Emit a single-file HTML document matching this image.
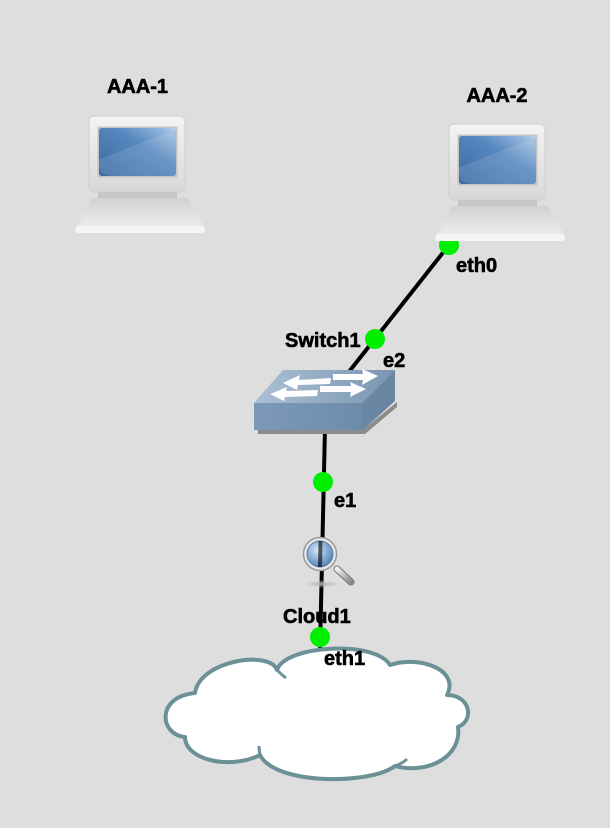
<!DOCTYPE html>
<html><head><meta charset="utf-8"><style>
html,body{margin:0;padding:0;background:#dedede;}
svg{display:block;}
text{font-family:"Liberation Sans",Arial,sans-serif;font-weight:bold;fill:#000;stroke:#000;stroke-width:0.6;}
</style></head><body>
<svg width="610" height="828" viewBox="0 0 610 828" xmlns="http://www.w3.org/2000/svg">
<defs>
<linearGradient id="mon" x1="0" y1="0" x2="0" y2="1"><stop offset="0" stop-color="#f4f4f4"/><stop offset="1" stop-color="#d8d8d8"/></linearGradient>
<linearGradient id="scr" x1="0" y1="1" x2="1" y2="0"><stop offset="0" stop-color="#3a6aa2"/><stop offset="0.6" stop-color="#5687bf"/><stop offset="1" stop-color="#a9c8e6"/></linearGradient>
<linearGradient id="base" x1="0" y1="0" x2="0" y2="1"><stop offset="0" stop-color="#d2d2d2"/><stop offset="0.8" stop-color="#ebebeb"/><stop offset="1" stop-color="#f6f6f6"/></linearGradient>
<linearGradient id="swtop" x1="0" y1="0" x2="1" y2="0"><stop offset="0" stop-color="#adc0d3"/><stop offset="1" stop-color="#7895b3"/></linearGradient>
<linearGradient id="swfront" x1="0" y1="0" x2="1" y2="0"><stop offset="0" stop-color="#7c99b7"/><stop offset="1" stop-color="#6d8cac"/></linearGradient>
<radialGradient id="lens" cx="0.4" cy="0.35" r="0.7"><stop offset="0" stop-color="#dbe8f5"/><stop offset="0.5" stop-color="#8fb2d8"/><stop offset="1" stop-color="#4d7fb8"/></radialGradient>
<linearGradient id="hdl" x1="0" y1="0" x2="1" y2="1"><stop offset="0" stop-color="#f0f0f0"/><stop offset="1" stop-color="#8a8a8a"/></linearGradient>
<radialGradient id="shad" cx="0.5" cy="0.5" r="0.5"><stop offset="0" stop-color="#a8a8a8"/><stop offset="1" stop-color="#dedede" stop-opacity="0"/></radialGradient>
<g id="laptop">
  <rect x="89" y="116" width="96" height="76" rx="5" fill="url(#mon)" stroke="#cfcfcf" stroke-width="1"/>
  <rect x="97.5" y="126.5" width="80" height="51" fill="#c4c4c4"/>
  <rect x="99" y="128" width="77" height="48" rx="3" fill="url(#scr)"/>
  <path d="M99 160 Q120 150 176 130 L176 128 L160 128 Q175 130 176 140 L176 176 L110 176 Q100 174 99 168 Z" fill="#ffffff" opacity="0.12"/>
  <rect x="98" y="192" width="79" height="7" fill="#c6c6c6"/>
  <path d="M95 198 L185 198 Q188 198 190 202 L205 229 Q206 233 201 233 L79 233 Q74 233 76 229 L90 202 Q92 198 95 198 Z" fill="url(#base)"/>
  <path d="M76 226 L204 226 L205 229 Q206 233 201 233 L79 233 Q74 233 76 229 Z" fill="#f4f4f4"/>
</g>
</defs>

<line x1="449" y1="245" x2="348" y2="373" stroke="#000" stroke-width="4"/>
<circle cx="449" cy="245" r="10" fill="#00ee00"/>

<line x1="325" y1="428" x2="320" y2="650" stroke="#000" stroke-width="4"/>

<use href="#laptop"/>
<use href="#laptop" transform="translate(360,8)"/>

<text x="137.5" y="93" font-size="20" text-anchor="middle">AAA-1</text>
<text x="497" y="102" font-size="20" text-anchor="middle">AAA-2</text>
<text x="456" y="272" font-size="20">eth0</text>

<polygon points="258,429 364,429 397,402 397,407 365,434 258,434" fill="#8c8c8c"/>
<polygon points="362,403 395,370 395,401 362,431" fill="#6a86a3"/>
<rect x="254" y="403" width="108" height="27" fill="url(#swfront)"/>
<polygon points="283,370 395,370 362,403 254,403" fill="url(#swtop)"/>
<polygon points="283,383 300,375 299,380 331,378 330,384 298,385 297,390" fill="#fff"/>
<polygon points="378,376 362,369 363,374 333,374 333,380 363,380 362,385" fill="#fff"/>
<polygon points="270,394 287,387 286,391 318,390 317,396 285,397 284,401" fill="#fff"/>
<polygon points="366,389 350,382 351,386 320,386 320,392 351,392 350,397" fill="#fff"/>

<text x="285" y="347" font-size="20">Switch1</text>
<circle cx="375" cy="339" r="10" fill="#00ee00"/>
<text x="383" y="367" font-size="20">e2</text>

<circle cx="323" cy="482" r="10" fill="#00ee00"/>
<text x="334" y="507" font-size="20">e1</text>

<ellipse cx="322" cy="584" rx="24" ry="4" fill="url(#shad)"/>
<line x1="337" y1="569" x2="351" y2="582" stroke="#777" stroke-width="7" stroke-linecap="round"/>
<line x1="337" y1="569" x2="351" y2="582" stroke="url(#hdl)" stroke-width="5" stroke-linecap="round"/>
<circle cx="320" cy="554" r="16.5" fill="#e8e8e8" stroke="#9a9a9a" stroke-width="1.5"/>
<circle cx="320" cy="554" r="13" fill="url(#lens)" stroke="#5a7fa8" stroke-width="1"/>
<line x1="320.5" y1="541" x2="320" y2="567" stroke="#000" stroke-width="4" opacity="0.6"/>

<path d="M195 693 C200 660 270 650 277 670 C285 645 375 640 390 665 C420 655 460 670 447 695 C470 695 475 720 458 727 C462 755 430 775 395 766 C370 785 275 785 260 755 C230 770 185 760 185 737 C160 735 155 697 195 693 Z" fill="#fff" stroke="#6b9196" stroke-width="4" stroke-linejoin="round"/>
<path d="M277 670 Q282 675 286 678" fill="none" stroke="#6b9196" stroke-width="3"/>
<path d="M395 766 Q403 763 407 759" fill="none" stroke="#6b9196" stroke-width="3"/>
<path d="M260 755 Q259 750 259 746" fill="none" stroke="#6b9196" stroke-width="3"/>

<circle cx="320" cy="637" r="10" fill="#00ee00"/>
<text x="283" y="623" font-size="20">Cloud1</text>
<text x="324" y="665" font-size="20">eth1</text>
</svg>
</body></html>
